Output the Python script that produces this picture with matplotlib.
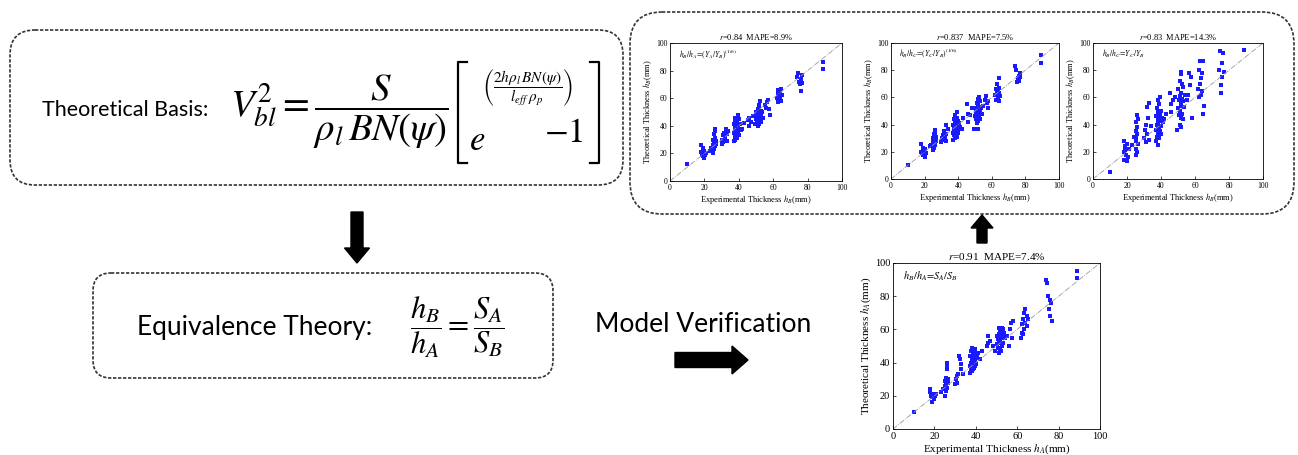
import numpy as np
import matplotlib
matplotlib.use('Agg')
import matplotlib.pyplot as plt
from matplotlib.patches import FancyBboxPatch, FancyArrow

plt.rcParams['mathtext.fontset'] = 'stix'

W, H = 1298, 455

# experimental thickness (shared by all panels), grouped by cluster
x_exp = [10,
         18, 18, 18.5, 19, 19, 19.5, 20, 20, 20.5, 21,
         23, 24, 25, 25, 25, 25.5, 25.5, 25.5, 26, 26, 26, 26, 26.5, 26.5,
         30, 30.5, 31, 31, 31.5, 32, 32.5, 33, 33, 34,
         37, 37, 37, 37.5, 37.5, 37.5, 38, 38, 38, 38, 38, 38.5, 38.5, 38.5,
         39, 39, 39, 39, 39.5, 39.5, 39.5, 40, 40, 40, 40.5, 41,
         42, 43, 45.5, 46, 46, 47, 48.5,
         49.5, 50, 50, 50.5, 50.5, 51, 51, 51, 51, 51.5, 51.5, 51.5,
         52, 52, 52, 52, 52.5, 52.5, 52.5, 53, 53, 53, 53.5, 54,
         55, 56, 56.5, 57, 57.5, 58,
         62, 62.5, 62.5, 63, 63, 63.5, 63.5, 64, 64, 64.5, 64.5, 65,
         74, 74.5, 75, 75.5, 76, 76, 76.5, 77,
         89, 89]

# theoretical thickness, one list per panel
y_a = [12,
       26, 21, 19, 24, 18, 20, 17, 22, 19, 20,
       22, 24, 20, 26, 30, 23, 28, 34, 25, 31, 36, 38, 27, 29,
       27, 30, 33, 28, 35, 31, 38, 34, 29, 36,
       29, 35, 41, 31, 38, 44, 30, 33, 36, 40, 46, 32, 37, 42,
       31, 34, 39, 43, 36, 40, 48, 33, 38, 45, 41, 37,
       38, 42, 44, 40, 46, 43, 47,
       41, 45, 50, 43, 48, 40, 44, 47, 52, 42, 46, 55,
       41, 45, 49, 53, 44, 48, 58, 43, 47, 51, 50, 46,
       55, 53, 57, 59, 52, 48,
       60, 64, 57, 62, 66, 59, 63, 61, 65, 58, 67, 62,
       75, 78, 72, 70, 65, 74, 71, 77,
       81, 86]

y_b = [10,
       26, 20, 19, 23, 18, 21, 16, 22, 20, 19,
       24, 25, 21, 27, 30, 23, 26, 33, 25, 29, 36, 34, 28, 31,
       27, 30, 32, 29, 35, 31, 40, 33, 28, 37,
       29, 34, 40, 32, 37, 44, 30, 35, 38, 41, 47, 33, 36, 42,
       31, 38, 40, 45, 35, 39, 49, 34, 37, 43, 41, 38,
       37, 45, 55, 48, 42, 47, 52,
       37, 46, 52, 44, 49, 41, 47, 51, 56, 43, 48, 59,
       37, 45, 50, 55, 46, 53, 60, 44, 49, 57, 52, 48,
       54, 58, 61, 56, 52, 57,
       62, 66, 58, 64, 70, 60, 65, 63, 67, 57, 74, 61,
       83, 80, 71, 74, 76, 72, 78, 75,
       85, 91]

y_c = [5,
       28, 20, 14, 24, 21, 18, 13, 26, 16, 22,
       25, 31, 18, 28, 35, 22, 30, 42, 20, 33, 47, 38, 26, 44,
       30, 36, 27, 40, 33, 53, 45, 56, 29, 39,
       28, 36, 46, 31, 40, 52, 25, 34, 38, 44, 58, 32, 41, 49,
       30, 37, 43, 55, 35, 47, 60, 33, 39, 50, 45, 42,
       44, 48, 63, 55, 49, 58, 60,
       36, 52, 66, 47, 58, 40, 50, 61, 72, 45, 56, 77,
       38, 54, 63, 79, 48, 59, 70, 44, 57, 68, 53, 62,
       58, 62, 78, 69, 75, 45,
       66, 80, 60, 70, 87, 62, 74, 65, 78, 48, 87, 54,
       80, 94, 69, 63, 85, 75, 93, 79,
       95, 95]

y_d = [10,
       24, 22, 20, 16, 19, 21, 20, 18, 20, 21,
       22, 24, 20, 26, 29, 23, 27, 31, 25, 36, 40, 38, 28, 30,
       27, 30, 32, 28, 33, 44, 42, 39, 36, 33,
       34, 38, 44, 36, 40, 47, 35, 38, 41, 43, 49, 36, 39, 45,
       37, 40, 42, 46, 38, 41, 48, 39, 43, 45, 44, 46,
       42, 47, 50, 56, 52, 53, 50,
       47, 51, 56, 49, 54, 46, 52, 57, 61, 48, 53, 59,
       47, 55, 58, 60, 50, 56, 61, 52, 57, 60, 58, 55,
       56, 50, 60, 64, 55, 65,
       55, 58, 63, 57, 66, 60, 70, 64, 72, 62, 68, 66,
       90, 88, 80, 72, 68, 78, 76, 65,
       91, 95]

titles = [r'$r$=0.84  MAPE=8.9%', r'$r$=0.837  MAPE=7.5%',
          r'$r$=0.83  MAPE=14.3%', r'$r$=0.91  MAPE=7.4%']
notes = [r'$h_B/h_A\!=\!(Y_A/Y_B)^{(1/6)}$', r'$h_B/h_C\!=\!(Y_C/Y_B)^{(1/6)}$',
         r'$h_B/h_C\!=\!Y_C/Y_B$', r'$h_B/h_A\!=\!S_A/S_B$']
xlabels = [r'Experimental Thickness $h_B$(mm)'] * 3 + [r'Experimental Thickness $h_A$(mm)']
ylabels = [r'Theoretical Thickness $h_B$(mm)'] * 3 + [r'Theoretical Thickness $h_A$(mm)']
ticks = [0, 20, 40, 60, 80, 100]

fig = plt.figure(figsize=(W / 100, H / 100), dpi=100)

# background axes in pixel units (y down)
bg = fig.add_axes([0, 0, 1, 1])
bg.set_xlim(0, W)
bg.set_ylim(H, 0)
bg.axis('off')

dash = dict(fill=False, edgecolor='#333333', lw=1.2, linestyle=(0, (2, 1)))
bg.add_patch(FancyBboxPatch((10, 30), 613, 155, boxstyle='round,pad=0,rounding_size=25', **dash))
bg.add_patch(FancyBboxPatch((93, 273), 460, 105, boxstyle='round,pad=0,rounding_size=18', **dash))
bg.add_patch(FancyBboxPatch((630, 12), 664, 202, boxstyle='round,pad=0,rounding_size=32', **dash))

arr = dict(color='black', length_includes_head=True)
bg.add_patch(FancyArrow(357, 212, 0, 51, width=12, head_width=25, head_length=15, **arr))
bg.add_patch(FancyArrow(675, 360, 73, 0, width=15, head_width=28, head_length=16, **arr))
bg.add_patch(FancyArrow(982, 243, 0, -28, width=10, head_width=22, head_length=13, **arr))

sans = 'Lato'
bg.text(42, 110, 'Theoretical Basis:', fontsize=15.5, family=sans, va='center')

# theoretical basis formula, put together from pieces
bg.text(230, 112, r'$V_{bl}^{2}=\dfrac{S}{\rho_l\, BN(\psi)}$', fontsize=28, va='center')
bg.plot([467, 458, 458, 467], [62, 62, 163, 163], color='black', lw=1.6)
bg.plot([590, 599, 599, 590], [62, 62, 163, 163], color='black', lw=1.6)
bg.text(469, 140, r'$e$', fontsize=25, va='center')
bg.text(482, 88, r'$\left(\dfrac{2h\rho_l\, BN(\psi)}{l_{eff}\;\rho_p}\right)$', fontsize=11, va='center')
bg.text(544, 132, r'$-1$', fontsize=25, va='center')

bg.text(137, 327, 'Equivalence Theory:', fontsize=19, family=sans, va='center')
bg.text(410, 327, r'$\dfrac{h_B}{h_A}=\dfrac{S_A}{S_B}$', fontsize=22, va='center')
bg.text(595, 325, 'Model Verification', fontsize=19, family=sans, va='center')

# scatter panels: [left, top, right, bottom] in pixels
boxes = [(670, 43, 842, 181), (891, 43, 1059, 179), (1093, 43, 1263, 179), (893, 263, 1100, 429)]
ys = [y_a, y_b, y_c, y_d]

for i, (l, t, r, b) in enumerate(boxes):
    big = i == 3
    fs = 7.5 if big else 5.5
    ax = fig.add_axes([l / W, 1 - b / H, (r - l) / W, (b - t) / H])
    ax.plot([0, 100], [0, 100], color='#999999', lw=0.6, ls='-.')
    ax.scatter(x_exp, ys[i], s=6 if big else 5, marker='s', color='#1a1aff', linewidths=0)
    ax.set_xlim(0, 100)
    ax.set_ylim(0, 100)
    ax.set_xticks(ticks)
    ax.set_yticks(ticks)
    ax.tick_params(direction='in', length=2, width=0.5, labelsize=fs, pad=2)
    for lab in ax.get_xticklabels() + ax.get_yticklabels():
        lab.set_family('Liberation Serif')
    for s in ax.spines.values():
        s.set_linewidth(0.6)
    ax.set_title(titles[i], fontsize=fs + 0.5, family='Liberation Serif', pad=2)
    ax.set_xlabel(xlabels[i], fontsize=fs + 0.5, family='Liberation Serif', labelpad=1)
    ax.set_ylabel(ylabels[i], fontsize=fs + 0.5, family='Liberation Serif', labelpad=1)
    ax.text(0.05, 0.92, notes[i], transform=ax.transAxes, fontsize=fs, va='center')

fig.savefig('out.png', dpi=100)
